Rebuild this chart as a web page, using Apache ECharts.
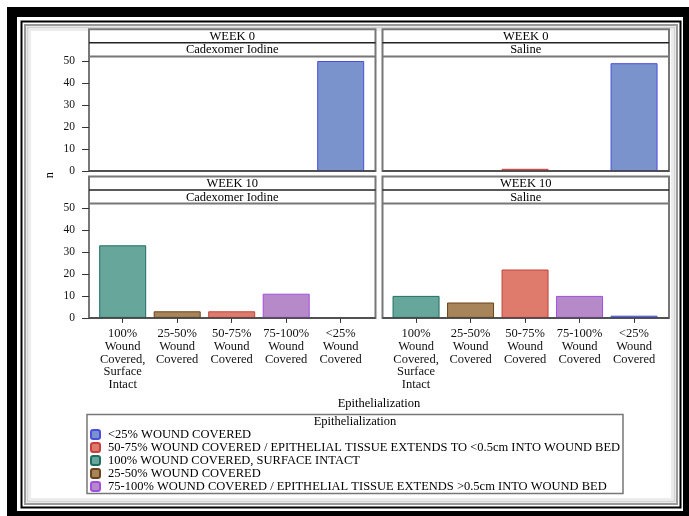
<!DOCTYPE html>
<html><head><meta charset="utf-8">
<script src="https://cdn.jsdelivr.net/npm/echarts@6/dist/echarts.min.js"></script>
<style>html,body{margin:0;padding:0;background:#fff}#c{width:689px;height:516px}</style>
</head><body><div id="c"></div><script>
// ---- data ----
const categories = ['100% Wound Covered, Surface Intact', '25-50% Wound Covered', '50-75% Wound Covered', '75-100% Wound Covered', '<25% Wound Covered'];
const legendNames = ['<25% WOUND COVERED', '50-75% WOUND COVERED / EPITHELIAL TISSUE EXTENDS TO <0.5cm INTO WOUND BED', '100% WOUND COVERED, SURFACE INTACT', '25-50% WOUND COVERED', '75-100% WOUND COVERED / EPITHELIAL TISSUE EXTENDS >0.5cm INTO WOUND BED'];
const categoryLegendIndex = [2, 3, 1, 4, 0];
const week0Cadexomer = [0, 0, 0, 0, 50];
const week0Saline = [0, 0, 1, 0, 49];
const week10Cadexomer = [33, 3, 3, 11, 0];
const week10Saline = [10, 7, 22, 10, 1];
const weekLabels = ['WEEK 0', 'WEEK 10'];
const treatmentLabels = ['Cadexomer Iodine', 'Saline'];
const legendTitle = 'Epithelialization';
const yTitle = 'n';
const xTitle = 'Epithelialization';

// ---- styles ----
const FONT = '"Liberation Serif", "Times New Roman", serif';
const FS = 12.5;
const fills = ['#7a93cc', '#df7b6c', '#67a69b', '#a8845a', '#b68ac8'];
const borders = ['#4b4de0', '#c5403f', '#1f6e63', '#6b4318', '#a04ee0'];

const panelValues = [week0Cadexomer, week0Saline, week10Cadexomer, week10Saline];
const frameLeft = [89, 382.5], frameW = 286.5;
const rows = [
  {stripTop: 29.3, sep1: 42.8, plotTop: 56.6, plotBottom: 171},
  {stripTop: 176.5, sep1: 190, plotTop: 203.5, plotBottom: 317.9}
];
const gridLeft = [95.45, 388.8], gridW = 272.5;

const grids = [], xAxes = [], yAxes = [], series = [];
for (let p = 0; p < 4; p++) {
  const r = Math.floor(p / 2), c = p % 2;
  grids.push({left: gridLeft[c], width: gridW, top: rows[r].plotTop, height: rows[r].plotBottom - rows[r].plotTop});
  const bottom = r === 1;
  xAxes.push({
    type: 'category', gridIndex: p, data: categories,
    axisLine: {show: false},
    axisTick: {show: bottom, alignWithLabel: true, length: 5, lineStyle: {color: '#333'}},
    axisLabel: {show: bottom, interval: 0, margin: 10, fontFamily: FONT, fontSize: FS, color: '#111', lineHeight: 12.6,
      formatter: v => v.split(' ').join('\n')}
  });
  yAxes.push({
    type: 'value', gridIndex: p, min: 0, max: 52, interval: 10, offset: 6.4,
    splitLine: {show: false}, axisLine: {show: false},
    axisTick: {show: c === 0, length: 7, lineStyle: {color: '#333'}},
    axisLabel: {show: c === 0, margin: 14, fontFamily: FONT, fontSize: 11.5, color: '#111',
      showMaxLabel: false}
  });
  const vals = panelValues[p];
  categories.forEach((cat, ci) => {
    const li = categoryLegendIndex[ci];
    series.push({
      type: 'bar', name: legendNames[li], xAxisIndex: p, yAxisIndex: p,
      barWidth: 47, barGap: '-100%',
      data: categories.map((_, k) => (k === ci && vals[k]) ? vals[k] : '-'),
      itemStyle: {color: fills[li], borderColor: borders[li], borderWidth: 1},
      emphasis: {disabled: true}, animation: false
    });
  });
}

const graphics = [
  {type: 'rect', shape: {x: 7, y: 7, width: 682, height: 509}, style: {fill: '#000'}, z: -10},
  {type: 'rect', shape: {x: 17, y: 17, width: 666, height: 494}, style: {fill: '#fff'}, z: -9},
  {type: 'rect', shape: {x: 21.5, y: 21.5, width: 659, height: 486}, style: {fill: null, stroke: '#000', lineWidth: 2}, z: -8},
  {type: 'rect', shape: {x: 25, y: 25, width: 652, height: 479}, style: {fill: null, stroke: '#999', lineWidth: 2}, z: -8},
  {type: 'rect', shape: {x: 27.5, y: 27.5, width: 647, height: 474}, style: {fill: null, stroke: '#d4d4d4', lineWidth: 2}, z: -8},
  {type: 'rect', shape: {x: 30, y: 30, width: 642, height: 469}, style: {fill: null, stroke: '#ececec', lineWidth: 2}, z: -8}
];
for (let r = 0; r < 2; r++) {
  for (let c = 0; c < 2; c++) {
    const R = rows[r], L = frameLeft[c];
    graphics.push({type: 'rect', shape: {x: L, y: R.stripTop, width: frameW, height: R.plotBottom - R.stripTop}, style: {fill: '#fff', stroke: '#777', lineWidth: 2}, z: -5});
    graphics.push({type: 'line', shape: {x1: L, y1: R.sep1, x2: L + frameW, y2: R.sep1}, style: {stroke: '#222', lineWidth: 1.5}, z: 5});
    graphics.push({type: 'line', shape: {x1: L, y1: R.plotTop, x2: L + frameW, y2: R.plotTop}, style: {stroke: '#777', lineWidth: 2}, z: 5});
    graphics.push({type: 'line', shape: {x1: L, y1: R.plotBottom, x2: L + frameW, y2: R.plotBottom}, style: {stroke: '#444', lineWidth: 1.5}, z: 5});
    graphics.push({type: 'text', x: L + frameW / 2, y: (R.stripTop + R.sep1) / 2 + 0.5, style: {text: weekLabels[r], font: FS + 'px ' + FONT, fill: '#000', textAlign: 'center', textVerticalAlign: 'middle'}, z: 6});
    graphics.push({type: 'text', x: L + frameW / 2, y: (R.sep1 + R.plotTop) / 2 + 0.5, style: {text: treatmentLabels[c], font: FS + 'px ' + FONT, fill: '#000', textAlign: 'center', textVerticalAlign: 'middle'}, z: 6});
  }
}
graphics.push({type: 'text', x: 50, y: 175, rotation: Math.PI / 2, style: {text: yTitle, font: FS + 'px ' + FONT, fill: '#000', textAlign: 'center', textVerticalAlign: 'middle'}, z: 6});
graphics.push({type: 'text', x: 379, y: 404, style: {text: xTitle, font: FS + 'px ' + FONT, fill: '#000', textAlign: 'center', textVerticalAlign: 'middle'}, z: 6});
graphics.push({type: 'rect', shape: {x: 87, y: 414.5, width: 536, height: 79}, style: {fill: '#fff', stroke: '#777', lineWidth: 1.5}, z: -5});
graphics.push({type: 'text', x: 355, y: 422, style: {text: legendTitle, font: FS + 'px ' + FONT, fill: '#000', textAlign: 'center', textVerticalAlign: 'middle'}, z: 6});

const chart = echarts.init(document.getElementById('c'), null, {renderer: 'canvas'});
chart.setOption({
  animation: false,
  backgroundColor: '#fff',
  grid: grids, xAxis: xAxes, yAxis: yAxes, series: series,
  legend: {
    data: legendNames, orient: 'vertical', left: 90, top: 428, padding: 0,
    itemWidth: 9, itemHeight: 9, itemGap: 0, icon: 'roundRect', selectedMode: false,
    textStyle: {fontFamily: FONT, fontSize: FS, color: '#000', lineHeight: 11.5, padding: [0, 0, 0, 3]}
  },
  graphic: graphics
});
</script></body></html>
